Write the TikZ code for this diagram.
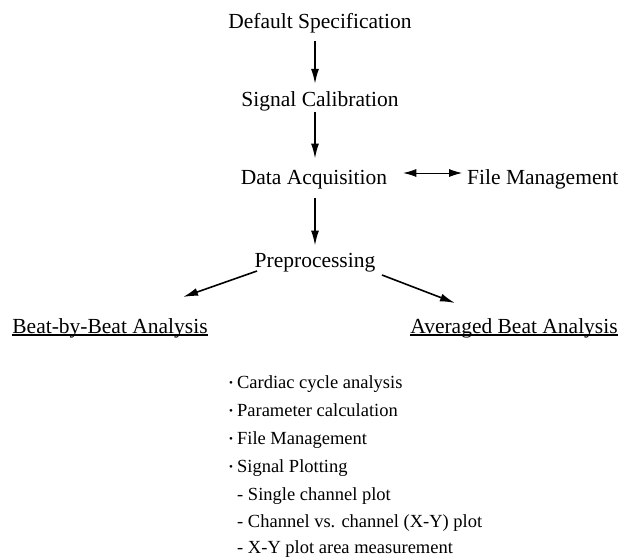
\documentclass[tikz,border=0pt]{standalone}
\usepackage{fontspec}
\setmainfont{Liberation Serif}
\usetikzlibrary{arrows.meta,calc}
\newcommand{\bul}{\raisebox{1.8pt}{\scalebox{0.6}{\textbullet}}\hspace{4pt}}
\begin{document}
\begin{tikzpicture}[x=1pt,y=-1pt,
  lab/.style={font=\fontsize{21.5}{24}\selectfont, inner sep=0pt, anchor=base},
  item/.style={font=\fontsize{18.5}{20}\selectfont, inner sep=0pt, anchor=base west},
  arr/.style={line width=1.6pt, -{Latex[length=15pt,width=8pt]}},
  darr/.style={line width=0.8pt, {Latex[length=13pt,width=8pt]}-{Latex[length=13pt,width=8pt]}},
  ul/.style={line width=1.5pt},
]
\useasboundingbox (0,0) rectangle (621,558);
\coordinate (col) at (315,0);
\node[lab] (ds) at (320,28) {Default Specification};
\node[lab] (sc) at (320,106) {Signal Calibration};
\node[lab] (da) at (314,184) {Data Acquisition};
\node[lab, anchor=base west] (fm) at (467,184) {File Management};
\node[lab] (pp) at (315,267) {Preprocessing};
\node[lab] (bb) at (110,333) {Beat-by-Beat Analysis};
\node[lab] (ab) at (514,333) {Averaged Beat Analysis};
\draw[ul] ([yshift=-2pt]bb.base west) -- ([yshift=-2pt]bb.base east);
\draw[ul] ([yshift=-2pt]ab.base west) -- ([yshift=-2pt]ab.base east);

\draw[arr, shorten <=8pt, shorten >=7pt] (ds.south -| col) -- (sc.north -| col);
\draw[arr, shorten <=1pt, shorten >=11pt] (sc.south -| col) -- (da.north -| col);
\draw[arr, shorten <=9pt, shorten >=7pt] (da.south -| col) -- (pp.north -| col);
\draw[darr, shorten <=16pt, shorten >=5pt] ([yshift=11pt]da.base east) -- ([yshift=11pt]fm.base west);
\draw[arr] ($(pp.base)+(-58,4)$) -- ($(bb.base)+(73,-36)$);
\draw[arr] ($(pp.base)+(67,8)$) -- ($(ab.base)+(-59,-30)$);

\node[item] (i1) at (229,388) {\bul Cardiac cycle analysis};
\node[item] (i2) at (229,416) {\bul Parameter calculation};
\node[item] (i3) at (229,444) {\bul File Management};
\node[item] (i4) at (229,472) {\bul Signal Plotting};
\node[item] (i5) at (237,500) {- Single channel plot};
\node[item] (i6) at (237,527) {- Channel vs. channel (X-Y) plot};
\node[item] (i7) at (237,553) {- X-Y plot area measurement};
\end{tikzpicture}
\end{document}
